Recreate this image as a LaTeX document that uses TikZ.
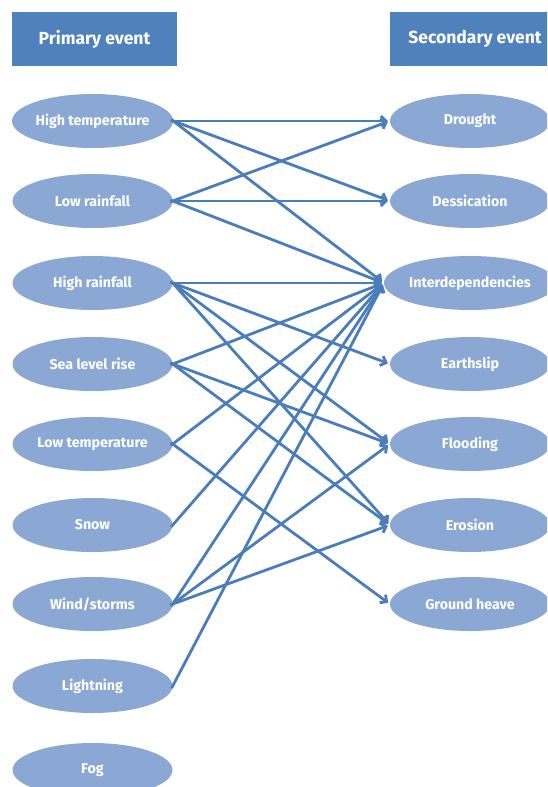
\documentclass[tikz,border=0pt]{standalone}
\usepackage{fontspec}
\setmainfont{Fira Sans}
\usetikzlibrary{arrows.meta,shapes.geometric}
\definecolor{hdrblue}{HTML}{4F81BD}
\definecolor{ellblue}{HTML}{8BA8D4}
\definecolor{lineblue}{HTML}{4A7EBB}
\tikzset{
  header/.style={fill=hdrblue, draw=none, minimum height=54pt, inner sep=0pt, text=white, font=\fontsize{17.5}{20}\selectfont\bfseries},
  evt/.style={ellipse, fill=ellblue, draw=none, minimum width=160pt, minimum height=54pt, inner sep=0pt, text=white, font=\fontsize{14.2}{16}\selectfont\bfseries},
  link/.style={draw=lineblue, line width=2.8pt, -{Straight Barb[length=5pt,width=10pt]}, shorten <=-2.5pt, shorten >=2pt}
}
\begin{document}
\begin{tikzpicture}[x=1pt,y=-1pt]
\useasboundingbox (0,0) rectangle (547,787);
\begin{scope}
\clip (0,0) rectangle (547,787);
\node[header, minimum width=165pt] (hp) at (94.5,39) {Primary event};
\node[header, minimum width=170pt] (hs) at (475,39) {Secondary event};
\node[evt] (p1) at (92.5,121) {High temperature};
\node[evt] (p2) at (92.5,201) {Low rainfall};
\node[evt] (p3) at (92.5,283) {High rainfall};
\node[evt] (p4) at (92.5,364) {Sea level rise};
\node[evt] (p5) at (92.5,444) {Low temperature};
\node[evt] (p6) at (92.5,525) {Snow};
\node[evt] (p7) at (92.5,604) {Wind/storms};
\node[evt] (p8) at (92.5,686) {Lightning};
\node[evt] (p9) at (92.5,770) {Fog};
\node[evt] (s1) at (470,121) {Drought};
\node[evt] (s2) at (470,201) {Dessication};
\node[evt] (s3) at (470,283) {Interdependencies};
\node[evt] (s4) at (470,364) {Earthslip};
\node[evt] (s5) at (470,444) {Flooding};
\node[evt] (s6) at (470,525) {Erosion};
\node[evt] (s7) at (470,604) {Ground heave};
\foreach \a/\b in {p1/s1,p1/s2,p1/s3,p2/s1,p2/s2,p2/s3,p3/s3,p3/s4,p3/s5,p3/s6,p4/s3,p4/s5,p4/s6,p5/s3,p5/s7,p6/s3,p7/s3,p7/s5,p7/s6,p8/s3}
  \draw[link] (\a.east) -- (\b.west);
\end{scope}
\end{tikzpicture}
\end{document}
